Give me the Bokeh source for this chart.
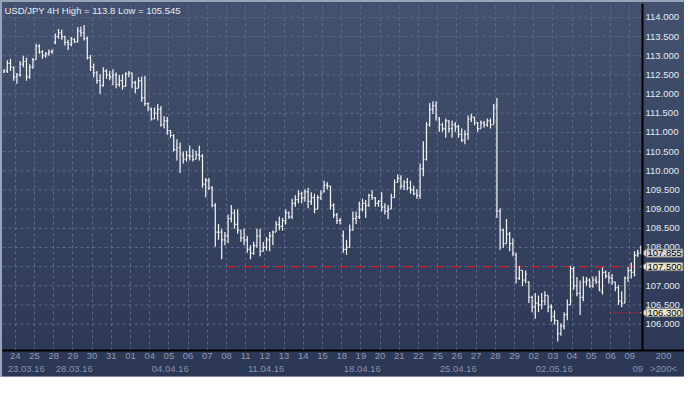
import math
from bokeh.plotting import figure
from bokeh.models import (FixedTicker, LinearAxis, Range1d, Label, ColumnDataSource,
                          NumeralTickFormatter, Span)
from bokeh.embed import file_html
from bokeh.resources import INLINE

# ---------------- data (USD/JPY, 4H bars) ----------------
symbol = "USD/JPY"
timeframe = "4H"

opens = [112.58, 112.60, 112.80, 112.70, 112.45, 112.50, 112.78, 112.85, 112.45, 112.70,
         112.90, 113.25, 113.10, 113.00, 113.05, 113.10, 113.35, 113.50, 113.60, 113.50,
         113.35, 113.30, 113.42, 113.36, 113.65, 113.60, 113.45, 112.95, 112.70, 112.55,
         112.35, 112.22, 112.60, 112.50, 112.45, 112.50, 112.25, 112.35, 112.20, 112.52,
         112.55, 112.30, 112.15, 112.35, 111.90, 111.75, 111.60, 111.35, 111.50, 111.60,
         111.20, 111.30, 111.05, 110.92, 110.55, 110.60, 110.40, 110.30, 110.40, 110.38,
         110.30, 110.42, 110.38, 109.65, 109.75, 109.55, 109.10, 108.40, 108.40, 108.20,
         108.30, 108.75, 108.90, 108.60, 108.45, 108.25, 108.20, 107.95, 107.85, 108.05,
         108.30, 107.90, 108.00, 108.20, 108.30, 108.40, 108.60, 108.55, 108.70, 108.90,
         108.80, 109.15, 109.25, 109.40, 109.30, 109.45, 109.20, 109.30, 109.00, 109.30,
         109.45, 109.62, 109.60, 109.10, 108.85, 108.70, 108.30, 107.95, 108.00, 108.45,
         108.75, 108.80, 109.00, 109.15, 109.10, 109.35, 109.30, 109.15, 109.20, 109.05,
         108.95, 109.00, 109.30, 109.70, 109.80, 109.60, 109.70, 109.55, 109.50, 109.40,
         109.35, 110.05, 110.30, 111.20, 111.60, 111.70, 111.35, 111.20, 111.10, 111.30,
         111.10, 111.20, 111.15, 110.95, 110.80, 110.95, 111.35, 111.40, 111.25, 111.10,
         111.25, 111.20, 111.30, 111.20, 111.70, 108.95, 108.45, 108.10, 108.35, 108.10,
         107.80, 107.20, 107.40, 107.15, 107.10, 106.70, 106.45, 106.55, 106.50, 106.60,
         106.75, 106.45, 106.20, 106.10, 105.75, 105.95, 106.25, 106.50, 107.45, 107.00,
         106.80, 106.70, 107.10, 107.15, 107.00, 107.15, 107.10, 106.85, 107.35, 107.25,
         107.20, 107.10, 106.95, 106.60, 106.55, 107.20, 107.40, 107.35, 107.80, 107.85]

highs = [112.65, 112.88, 112.92, 112.72, 112.55, 112.86, 113.00, 112.95, 112.78, 112.94,
         113.31, 113.30, 113.15, 113.10, 113.16, 113.17, 113.58, 113.70, 113.68, 113.52,
         113.42, 113.49, 113.46, 113.74, 113.76, 113.80, 113.50, 113.02, 112.80, 112.60,
         112.52, 112.70, 112.65, 112.60, 112.65, 112.56, 112.50, 112.52, 112.57, 112.60,
         112.56, 112.35, 112.44, 112.46, 112.48, 111.78, 111.65, 111.65, 111.74, 111.69,
         111.42, 111.40, 111.06, 110.95, 110.82, 110.74, 110.50, 110.52, 110.65, 110.56,
         110.52, 110.65, 110.44, 109.81, 109.81, 109.60, 109.15, 108.61, 108.49, 108.40,
         108.86, 109.11, 108.99, 108.99, 108.45, 108.49, 108.30, 108.06, 108.15, 108.49,
         108.49, 108.14, 108.27, 108.40, 108.44, 108.69, 108.81, 108.77, 108.99, 108.94,
         109.27, 109.36, 109.49, 109.45, 109.52, 109.56, 109.44, 109.40, 109.36, 109.49,
         109.74, 109.70, 109.60, 109.15, 108.90, 108.77, 108.44, 108.20, 108.60, 108.94,
         108.94, 109.19, 109.27, 109.24, 109.40, 109.49, 109.31, 109.24, 109.44, 109.15,
         109.11, 109.40, 109.77, 109.90, 109.88, 109.75, 109.81, 109.74, 109.61, 109.52,
         110.19, 110.77, 111.27, 111.77, 111.81, 111.81, 111.40, 111.25, 111.36, 111.32,
         111.31, 111.27, 111.20, 111.10, 111.06, 111.44, 111.49, 111.40, 111.27, 111.31,
         111.30, 111.36, 111.36, 111.74, 111.90, 109.02, 108.49, 108.74, 108.40, 108.24,
         107.86, 107.52, 107.40, 107.40, 107.11, 106.74, 106.81, 106.75, 106.81, 106.86,
         106.75, 106.52, 106.36, 106.10, 106.02, 106.31, 106.64, 107.52, 107.50, 107.23,
         107.14, 107.24, 107.23, 107.20, 107.24, 107.25, 107.40, 107.48, 107.40, 107.36,
         107.31, 107.10, 107.02, 106.86, 107.24, 107.49, 107.61, 107.90, 107.94, 108.05]

lows = [112.55, 112.55, 112.60, 112.35, 112.27, 112.45, 112.70, 112.35, 112.40, 112.66,
        112.90, 113.05, 112.92, 112.95, 113.00, 113.05, 113.30, 113.44, 113.42, 113.27,
        113.15, 113.25, 113.33, 113.35, 113.50, 113.40, 112.90, 112.60, 112.44, 112.27,
        112.00, 112.20, 112.40, 112.36, 112.23, 112.15, 112.19, 112.11, 112.20, 112.44,
        112.15, 112.02, 112.15, 111.80, 111.69, 111.55, 111.31, 111.35, 111.31, 111.15,
        111.10, 110.94, 110.86, 110.50, 110.27, 109.94, 110.19, 110.24, 110.27, 110.24,
        110.30, 110.27, 109.56, 109.31, 109.50, 109.05, 108.02, 108.20, 107.69, 108.06,
        108.11, 108.65, 108.49, 108.36, 108.15, 108.06, 107.86, 107.69, 107.80, 107.99,
        107.77, 107.90, 107.92, 107.90, 108.06, 108.40, 108.45, 108.44, 108.60, 108.74,
        108.74, 109.06, 109.15, 109.15, 109.19, 109.02, 109.11, 108.89, 109.00, 109.24,
        109.44, 109.52, 108.99, 108.77, 108.61, 108.60, 107.86, 107.81, 108.00, 108.45,
        108.61, 108.74, 108.94, 108.77, 109.06, 109.24, 109.06, 109.06, 108.94, 108.86,
        108.74, 109.00, 109.30, 109.69, 109.52, 109.50, 109.49, 109.40, 109.36, 109.27,
        109.27, 109.86, 110.27, 111.15, 111.48, 111.31, 111.02, 111.02, 110.86, 111.00,
        110.86, 111.02, 110.86, 110.75, 110.69, 110.81, 111.27, 111.19, 111.02, 111.10,
        111.12, 111.15, 111.10, 111.20, 108.77, 107.94, 107.99, 108.10, 107.90, 107.77,
        107.06, 107.15, 106.99, 107.06, 106.55, 106.31, 106.14, 106.31, 106.39, 106.50,
        106.31, 106.06, 105.99, 105.545, 105.70, 105.86, 106.10, 106.50, 106.90, 106.73,
        106.24, 106.60, 107.00, 106.95, 106.95, 107.05, 106.86, 106.77, 107.19, 107.06,
        107.02, 106.86, 106.50, 106.44, 106.55, 107.10, 107.19, 107.24, 107.75, 107.82]

closes = [112.62, 112.80, 112.70, 112.45, 112.50, 112.78, 112.85, 112.45, 112.70, 112.90,
          113.25, 113.10, 113.00, 113.05, 113.10, 113.12, 113.50, 113.60, 113.50, 113.35,
          113.30, 113.42, 113.36, 113.65, 113.60, 113.45, 112.95, 112.70, 112.55, 112.35,
          112.22, 112.60, 112.50, 112.45, 112.50, 112.25, 112.35, 112.20, 112.52, 112.55,
          112.30, 112.15, 112.35, 111.90, 111.75, 111.65, 111.35, 111.50, 111.60, 111.20,
          111.30, 111.05, 110.92, 110.55, 110.60, 110.45, 110.30, 110.40, 110.38, 110.30,
          110.42, 110.38, 109.65, 109.75, 109.55, 109.10, 108.40, 108.40, 108.20, 108.30,
          108.75, 108.90, 108.60, 108.45, 108.25, 108.20, 107.95, 107.85, 108.05, 108.30,
          107.90, 108.00, 108.20, 108.30, 108.40, 108.60, 108.55, 108.70, 108.90, 108.80,
          109.15, 109.25, 109.40, 109.30, 109.45, 109.20, 109.30, 109.00, 109.30, 109.40,
          109.62, 109.60, 109.10, 108.85, 108.70, 108.72, 107.95, 108.00, 108.45, 108.75,
          108.80, 109.00, 109.15, 109.10, 109.35, 109.30, 109.15, 109.20, 109.05, 108.95,
          109.00, 109.30, 109.70, 109.80, 109.60, 109.70, 109.55, 109.50, 109.40, 109.35,
          110.05, 110.30, 111.20, 111.60, 111.70, 111.40, 111.20, 111.10, 111.30, 111.10,
          111.20, 111.15, 110.95, 110.80, 110.95, 111.35, 111.40, 111.25, 111.10, 111.25,
          111.20, 111.30, 111.20, 111.65, 108.95, 108.45, 108.10, 108.35, 108.10, 107.85,
          107.20, 107.40, 107.15, 107.30, 106.70, 106.45, 106.55, 106.50, 106.60, 106.75,
          106.45, 106.20, 106.10, 105.75, 105.95, 106.25, 106.50, 107.45, 107.00, 106.80,
          106.70, 107.10, 107.15, 107.00, 107.15, 107.10, 106.90, 107.35, 107.25, 107.20,
          107.10, 106.95, 106.60, 106.55, 107.20, 107.40, 107.35, 107.80, 107.85, 107.855]

day_labels = ["24", "25", "28", "29", "30", "31", "01", "04", "05", "06", "07", "08",
              "11", "12", "13", "14", "15", "18", "19", "20", "21", "22", "25", "26",
              "27", "28", "29", "02", "03", "04", "05", "06", "09"]
week_labels = ["23.03.16", "28.03.16", "04.04.16", "11.04.16", "18.04.16", "25.04.16",
               "02.05.16", "09"]
price_ticks = [106.0, 106.5, 107.0, 107.5, 108.0, 108.5, 109.0, 109.5, 110.0, 110.5,
               111.0, 111.5, 112.0, 112.5, 113.0, 113.5, 114.0]

level_price = 107.5      # dashed red level
level_from_bar = 69.6
stop_price = 106.3       # dotted red level
stop_from_bar = 189.1
bars_setting = "200"

# ---------------- layout ----------------
W, H = 684, 377
FL, FT, FB = 2, 3, 27
STRIP = 42                       # price-scale strip on the right (inside the frame)
bars_w = W - FL - STRIP
n = len(closes)
x0, xe = -0.5, n - 0.5           # bar area
xpx = (xe - x0) / bars_w
x1 = xe + STRIP * xpx            # frame right end incl. price strip
y0, y1 = 105.3125, 114.3625
frame_h = H - FT - FB
ypx = (y1 - y0) / frame_h

FONT = "Liberation Sans"
bar_col = "#f7f7f7"
grid_col = "#5a6987"

p = figure(width=W, height=H, x_range=Range1d(x0, x1), y_range=Range1d(y0, y1),
           output_backend="svg", toolbar_location=None, y_axis_location="right",
           min_border_left=FL, min_border_top=FT, min_border_right=0, min_border_bottom=FB)
p.background_fill_color = None
p.border_fill_color = None
p.outline_line_color = None
p.styles = {"background": "linear-gradient(180deg, #44526f 0%, #36435f 55%, #2c3755 100%)",
            "box-shadow": "inset 2px 2px 0 #9aa4b8, inset 0 -1px 0 #7f899c"}

xs = list(range(n))
src = ColumnDataSource(dict(x=xs, o=opens, h=highs, l=lows, c=closes,
                            xl=[i - 0.38 for i in xs], xr=[i + 0.38 for i in xs]))

# grids
day_ticks = [3.5 + 6 * k for k in range(len(day_labels))]
p.xgrid.ticker = FixedTicker(ticks=day_ticks)
p.xgrid.grid_line_color = grid_col
p.xgrid.grid_line_dash = "3 3"
p.ygrid.visible = False
p.segment(x0=[x0] * len(price_ticks), y0=price_ticks, x1=[xe] * len(price_ticks),
          y1=price_ticks, line_color=grid_col, line_dash="3 3", line_width=1)

# levels
p.segment(x0=[level_from_bar], y0=[level_price], x1=[xe], y1=[level_price],
          line_color="#d41e28", line_width=1.2, line_dash="8 8")
p.segment(x0=[stop_from_bar], y0=[stop_price], x1=[xe], y1=[stop_price],
          line_color="#d41e28", line_width=1, line_dash="2 2")

# OHLC bars
p.segment(x0="x", y0="l", x1="x", y1="h", source=src, line_color=bar_col, line_width=1.2)
p.segment(x0="xl", y0="o", x1="x", y1="o", source=src, line_color=bar_col, line_width=1.2)
p.segment(x0="x", y0="c", x1="xr", y1="c", source=src, line_color=bar_col, line_width=1.2)

# separator of the price strip
p.add_layout(Span(location=xe, dimension="height", line_color="#000000", line_width=2))


def style_axis(ax, color, standoff):
    ax.major_tick_line_color = None
    ax.minor_tick_line_color = None
    ax.major_tick_out = 0
    ax.major_tick_in = 0
    ax.minor_tick_out = 0
    ax.minor_tick_in = 0
    ax.axis_label_standoff = 0
    ax.major_label_standoff = standoff
    ax.major_label_text_color = color
    ax.major_label_text_font = FONT
    ax.major_label_text_font_size = "9.5px"


# right price axis: labels drawn back into the strip
ya = p.yaxis[0]
ya.ticker = FixedTicker(ticks=price_ticks)
ya.formatter = NumeralTickFormatter(format="0.000")
ya.axis_line_color = None
style_axis(ya, "#e6eaf0", -(STRIP - 3))

# day axis (+ bars counter under the strip)
cnt_x = xe + STRIP / 2 * xpx
xa = p.xaxis[0]
xa.ticker = FixedTicker(ticks=day_ticks + [cnt_x])
over = {t: lab for t, lab in zip(day_ticks, day_labels)}
over[cnt_x] = bars_setting
xa.major_label_overrides = over
xa.axis_line_color = "#000000"
xa.axis_line_width = 2
style_axis(xa, "#8e9ab1", 2)

# week axis
week_ticks = [6.9, 21.9, 51.9, 81.9, 111.9, 141.9, 171.9, 198.0]
wover = {t: lab for t, lab in zip(week_ticks, week_labels)}
wover[cnt_x] = ">" + bars_setting + "<"
wa = LinearAxis(ticker=FixedTicker(ticks=week_ticks + [cnt_x]), major_label_overrides=wover)
wa.axis_line_color = None
style_axis(wa, "#8893aa", 1)
p.add_layout(wa, "below")

# title
title = f"{symbol} {timeframe} High = {max(highs):g} Low = {min(lows):g}"
p.add_layout(Label(x=x0 + 2 * xpx, y=y1 - 1 * ypx, text=title, text_baseline="top",
                   text_align="left", text_color="#e8ebf0", text_font=FONT,
                   text_font_size="9.5px"))

# price boxes on the price strip (with pointer)
box_vals = [closes[-1], level_price, stop_price]
box_fill = ["#d3d5d8", "#e9e8cf", "#e9e8cf"]
p.scatter(x=[xe + 3 * xpx] * 3, y=box_vals, marker="triangle", size=9,
          angle=math.pi / 2, fill_color=box_fill, line_color="#8a8a8a", line_width=0.8)
for v, fill in zip(box_vals, box_fill):
    p.add_layout(Label(x=xe + 4 * xpx, y=v, text=f"{v:.3f}", text_baseline="middle",
                       text_align="left", text_color="#000000", text_font=FONT,
                       text_font_size="9.5px", background_fill_color=fill,
                       border_line_color="#8a8a8a", padding=1))

open("out.html", "w").write(file_html(p, INLINE))
